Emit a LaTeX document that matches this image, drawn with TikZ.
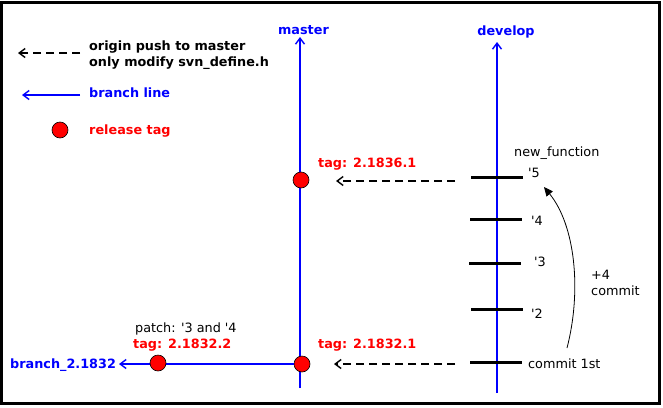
\documentclass[tikz,border=0pt]{standalone}
\usepackage{fontspec}
\setmainfont{DejaVu Sans}[Ligatures=TeXOff]
\usetikzlibrary{arrows.meta}
\definecolor{tagred}{RGB}{255,0,0}
\definecolor{brblue}{RGB}{0,0,255}
\newcommand{\apo}{'}
\begin{document}
\begin{tikzpicture}[x=1pt,y=-1pt,
  lbl/.style={inner sep=0pt,anchor=base west,font=\fontsize{12.8}{15}\selectfont\bfseries},
  reg/.style={inner sep=0pt,anchor=base west,font=\fontsize{12.8}{15}\selectfont},
  bluelbl/.style={lbl,text=brblue},
  redlbl/.style={lbl,text=tagred},
  branchline/.style={draw=brblue,line width=2pt},
  openarrow/.style={-{Straight Barb[length=6pt,width=9pt,line width=1.4pt]}},
  pushline/.style={draw=black,line width=1.6pt,dash pattern=on 8pt off 5pt,openarrow},
  tagdot/.style={circle,draw=black,fill=tagred,line width=0.6pt,minimum size=16pt,inner sep=0pt},
  commit/.style={draw=black,line width=3pt}
]
\useasboundingbox (0,0) rectangle (663,407);
\draw[line width=3pt] (1.5,2.5) rectangle (659.5,403.5);

% legend
\coordinate (lg1s) at (80,53); \coordinate (lg1e) at (18,53);
\draw[pushline] (lg1s) -- (lg1e);
\node[lbl] (lgt1) at (89,50) {origin push to master};
\node[lbl] (lgt2) at (89,66) {only modify svn\_define.h};
\coordinate (lg2s) at (80,95); \coordinate (lg2e) at (22,95);
\draw[branchline,openarrow] (lg2s) -- (lg2e);
\node[bluelbl] (lgt3) at (89,97) {branch line};
\node[tagdot] (lgdot) at (60,130) {};
\node[redlbl] (lgt4) at (89,134) {release tag};

% master
\coordinate (mbot) at (300,388); \coordinate (mtop) at (300,37);
\draw[branchline,openarrow] (mbot) -- (mtop);
\node[bluelbl,anchor=base] (mlbl) at (303.5,34) {master};

% develop
\coordinate (dbot) at (497,393); \coordinate (dtop) at (497,42);
\draw[branchline,openarrow] (dbot) -- (dtop);
\node[bluelbl,anchor=base] (dlbl) at (506,35) {develop};

% commits
\coordinate (c5l) at (471,177); \coordinate (c5r) at (523,177);
\coordinate (c4l) at (470,219); \coordinate (c4r) at (522,219);
\coordinate (c3l) at (469,263); \coordinate (c3r) at (521,263);
\coordinate (c2l) at (471,309); \coordinate (c2r) at (523,309);
\coordinate (c1l) at (470,362); \coordinate (c1r) at (522,362);
\draw[commit] (c5l) -- (c5r);
\draw[commit] (c4l) -- (c4r);
\draw[commit] (c3l) -- (c3r);
\draw[commit] (c2l) -- (c2r);
\draw[commit] (c1l) -- (c1r);
\node[reg] (nf) at (514,156) {new\_function};
\node[reg] (l5) at (528,177) {\apo5};
\node[reg] (l4) at (531,225) {\apo4};
\node[reg] (l3) at (534,266) {\apo3};
\node[reg] (l2) at (531,318) {\apo2};
\node[reg] (l1) at (528,368) {commit 1st};
\node[reg] (p4) at (591,279) {+4};
\node[reg] (p4c) at (591,295) {commit};
\coordinate (cas) at (567,348); \coordinate (cae) at (544,187);
\draw[line width=0.8pt,-{Triangle[length=9pt,width=8pt]}] (cas) .. controls (582,290) and (575,225) .. (cae);

% master tags
\node[tagdot] (t1) at (301,180) {};
\node[redlbl] (t1l) at (318,167) {tag: 2.1836.1};
\coordinate (pa1s) at (455,181); \coordinate (pa1e) at (336,181);
\draw[pushline] (pa1s) -- (pa1e);

\node[tagdot] (t2) at (302,364) {};
\node[redlbl] (t2l) at (318,348) {tag: 2.1832.1};
\coordinate (pa2s) at (455,364); \coordinate (pa2e) at (334,364);
\draw[pushline] (pa2s) -- (pa2e);

% branch
\coordinate (btip) at (119,364);
\draw[branchline,openarrow] (t2.west) -- (btip);
\node[tagdot] (t3) at (158,363) {};
\node[redlbl] (t3l) at (133,348) {tag: 2.1832.2};
\node[reg] (patch) at (135,332) {patch: \apo3 and \apo4};
\node[bluelbl] (blbl) at (10,368) {branch\_2.1832};
\end{tikzpicture}
\end{document}
